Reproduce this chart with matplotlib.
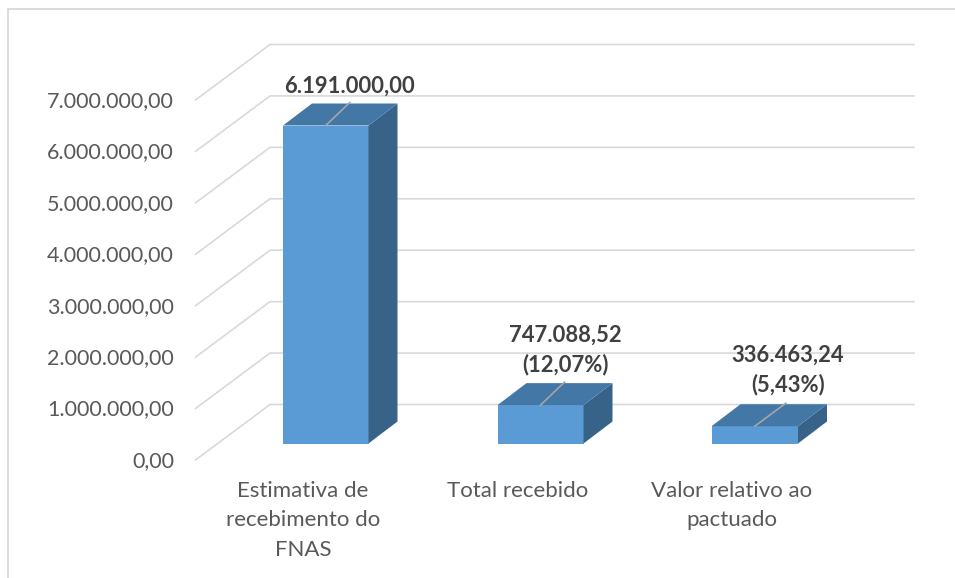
import matplotlib
matplotlib.use("Agg")
import matplotlib.pyplot as plt
from matplotlib.patches import Polygon

categories = ["Estimativa de\nrecebimento do\nFNAS", "Total recebido", "Valor relativo ao\npactuado"]
values = [6191000.00, 747088.52, 336463.24]
labels = ["6.191.000,00", "747.088,52\n(12,07%)", "336.463,24\n(5,43%)"]
ticks = [0, 1000000, 2000000, 3000000, 4000000, 5000000, 6000000, 7000000]
tick_labels = ["0,00", "1.000.000,00", "2.000.000,00", "3.000.000,00", "4.000.000,00",
               "5.000.000,00", "6.000.000,00", "7.000.000,00"]

W, H = 955, 578
plt.rcParams['font.family'] = ['Lato', 'DejaVu Sans']
fig = plt.figure(figsize=(W/100, H/100), dpi=100)
ax = fig.add_axes([0, 0, 1, 1])
ax.set_xlim(0, W)
ax.set_ylim(H, 0)
ax.axis('off')

ax.plot([7.5, 7.5, 955], [578, 9, 9], color='#d9d9d9', lw=1.3)

y0 = 460.0
unit = (460.0 - 100.0) / 7000000
dx, dy = 74.5, -55.5
x_left = 195.5
x_right = 914
gc = '#d9d9d9'
fs = 15.5
fs_b = 15.8
fs_c = 16

def yv(v):
    return y0 - v * unit

for t, tl in zip(ticks, tick_labels):
    y = yv(t)
    ax.plot([x_left, x_left + dx, x_right], [y, y + dy, y + dy], color=gc, lw=1.2, zorder=1)
    ax.text(174, y + 1, tl, ha='right', va='center', fontsize=fs, color='#595959')

bars_x = [(283, 368.5), (497.5, 583.5), (711.5, 798)]
ddx, ddy = 29, -22
base = 443.5
scale = (443.5 - 125.5) / 6191000
label_dx = [24, 25, 33]
label_gap = [39, 55, 56]
lead_dx = [24, 24, 31]
cat_x = [303, 518, 732]
for (a, b), v, lab, cat, ldx, gap, lead, cx in zip(bars_x, values, labels, categories, label_dx, label_gap, lead_dx, cat_x):
    top = base - v * scale
    ax.add_patch(Polygon([(a, base), (b, base), (b, top), (a, top)], fc='#5b9bd5', ec='none', zorder=3))
    ax.add_patch(Polygon([(b, base), (b + ddx, base + ddy), (b + ddx, top + ddy), (b, top)], fc='#386388', ec='none', zorder=3))
    ax.add_patch(Polygon([(a, top), (b, top), (b + ddx, top + ddy), (a + ddx, top + ddy)], fc='#4277a6', ec='none', zorder=3))
    xm = (a + b) / 2
    ax.plot([xm, xm + lead], [top, top - 23], color='#a6a6a6', lw=1.2, zorder=4)
    ax.text(xm + ldx, top - gap, lab, ha='center', va='center', fontsize=fs_b,
            fontweight='bold', color='#404040', linespacing=1.45, zorder=5)
    ax.text(cx, 481, cat, ha='center', va='top', fontsize=fs_c,
            color='#595959', linespacing=1.58)

fig.savefig("out.png", dpi=100)
